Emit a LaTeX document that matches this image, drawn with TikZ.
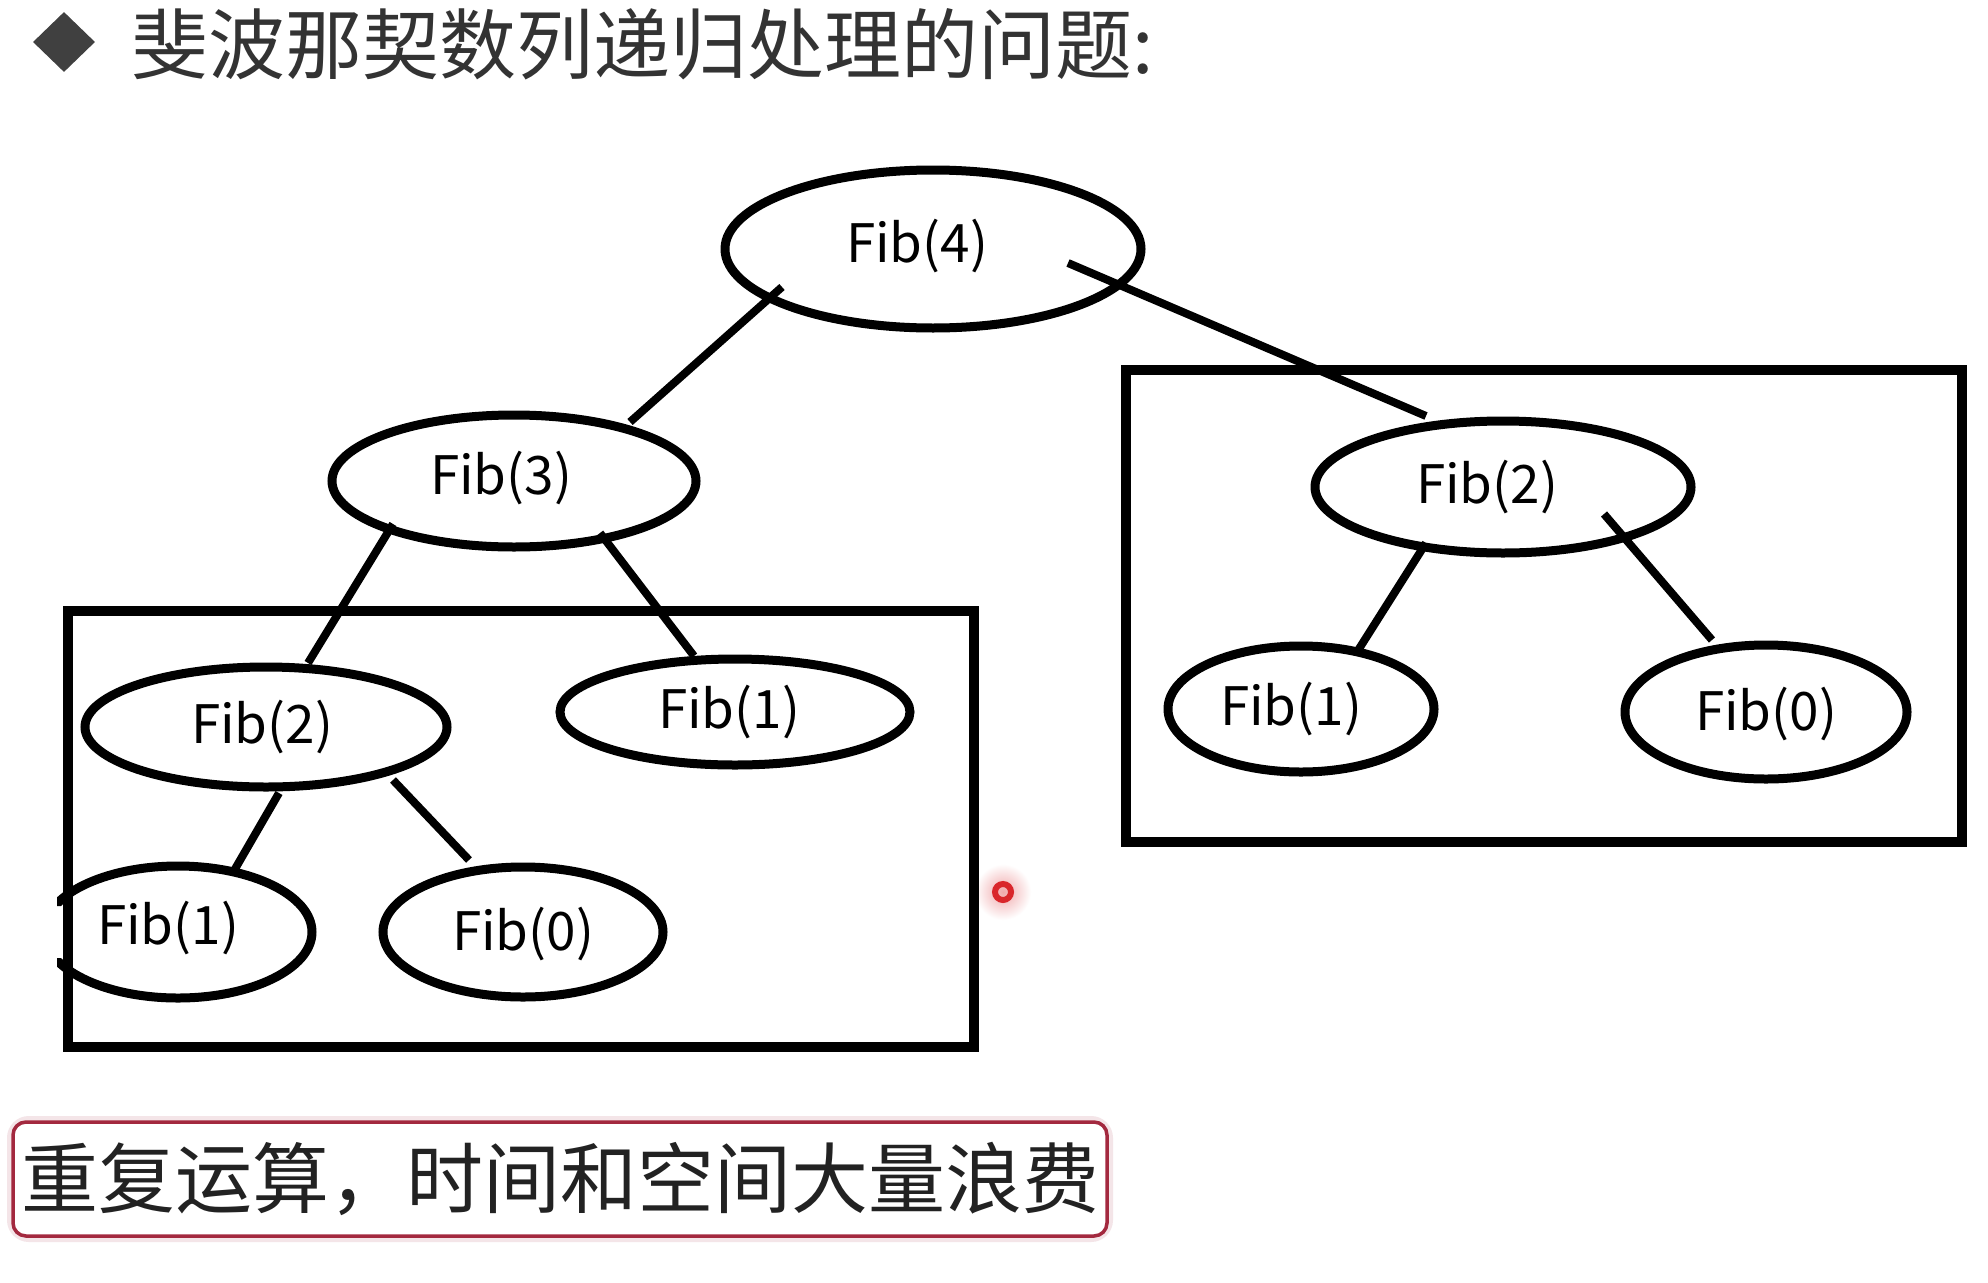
\documentclass[tikz,border=0pt]{standalone}
\usepackage{fontspec}
\usetikzlibrary{shapes.geometric,calc}
\newfontfamily\cjkfont{Noto Sans CJK SC}
\definecolor{titlegray}{HTML}{333333}
\definecolor{bulletgray}{HTML}{404040}
\definecolor{noteborder}{HTML}{A3293F}
\definecolor{notetext}{HTML}{222222}
\definecolor{pointerred}{HTML}{D9262B}
\begin{document}
\begin{tikzpicture}[x=1pt,y=-1pt,
  fib/.style={ellipse, draw, line width=9pt, inner sep=0pt},
  fibtext/.style={font=\cjkfont\fontsize{53}{60}\selectfont},
  link/.style={line width=8pt},
  groupbox/.style={draw, line width=10pt},
]
% canvas
\useasboundingbox[fill=white] (0,0) rectangle (1988,1282);

% heading
\node[diamond, fill=bulletgray, inner sep=0pt, minimum width=62pt, minimum height=60pt] (bullet) at (64,42) {};
\node[anchor=west, inner sep=0pt, text=titlegray, font=\cjkfont\fontsize{77}{84}\selectfont] (title) at (131,44) {斐波那契数列递归处理的问题:};

% soft halo of the pointer mark, under everything else
\shade[inner color=pointerred!40, outer color=white] (1003,892) circle (28);

% call tree
\node[fib, minimum width=416pt, minimum height=158pt, label={[fibtext, xshift=-16pt, yshift=3pt]center:Fib(4)}] (f4) at (933,249) {};
\node[fib, minimum width=364pt, minimum height=132pt, label={[fibtext, xshift=-13pt, yshift=3pt]center:Fib(3)}] (f3) at (514,481) {};
\node[fib, minimum width=376pt, minimum height=132pt, label={[fibtext, xshift=-16pt]center:Fib(2)}] (f2r) at (1503,487) {};
\node[fib, minimum width=362pt, minimum height=120pt, label={[fibtext, xshift=-4pt]center:Fib(2)}] (f2l) at (266,727) {};
\node[fib, minimum width=350pt, minimum height=106pt, label={[fibtext, xshift=-6pt]center:Fib(1)}] (f1m) at (735,712) {};
\begin{scope}
  % the left side of this ellipse is cut by the box edge, leaving two short stubs
  \clip (64,830) rectangle (340,1030) (57,882) rectangle (64,906) (57,958) rectangle (64,982);
  \node[fib, minimum width=268pt, minimum height=132pt, label={[fibtext, xshift=-10pt, yshift=4pt]center:Fib(1)}] (f1bl) at (178,932) {};
\end{scope}
\node[fib, minimum width=280pt, minimum height=130pt, label={[fibtext, yshift=-2pt]center:Fib(0)}] (f0b) at (523,932) {};
\node[fib, minimum width=266pt, minimum height=126pt, label={[fibtext, xshift=-10pt]center:Fib(1)}] (f1r) at (1301,709) {};
\node[fib, minimum width=282pt, minimum height=134pt, label={[fibtext, yshift=-2pt]center:Fib(0)}] (f0r) at (1766,712) {};

% calls
\draw[link] ($(f4.center)+(-151,38)$) -- ($(f3.center)+(116,-59)$);
\draw[link] ($(f4.center)+(135,14)$) -- ($(f2r.center)+(-77,-71)$);
\draw[link] ($(f3.center)+(-121,43)$) -- ($(f2l.center)+(42,-64)$);
\draw[link] ($(f3.center)+(86,52)$) -- ($(f1m.center)+(-41,-56)$);
\draw[link] ($(f2l.center)+(13,66)$) -- ($(f1bl.center)+(57,-63)$);
\draw[link] ($(f2l.center)+(127,53)$) -- ($(f0b.center)+(-54,-72)$);
\draw[link] ($(f2r.center)+(-77,56)$) -- ($(f1r.center)+(56,-57)$);
\draw[link] ($(f2r.center)+(101,27)$) -- ($(f0r.center)+(-54,-72)$);

% repeated subtrees
\draw[groupbox] (68,611) rectangle (974,1047);
\draw[groupbox] (1126,370) rectangle (1962,842);

% pointer mark
\node[circle, draw=pointerred, line width=6pt, minimum size=16pt, inner sep=0pt] (pointer) at (1003,892) {};

% conclusion
\draw[noteborder!12, line width=12pt, rounded corners=16pt] (13,1122) rectangle (1107,1236);
\node[draw=noteborder, fill=white, line width=3.5pt, rounded corners=13pt, minimum width=1094pt, minimum height=114pt, inner sep=0pt, text=notetext, font=\cjkfont\fontsize{77}{84}\selectfont] (note) at (560,1179) {重复运算，时间和空间大量浪费};
\end{tikzpicture}
\end{document}
